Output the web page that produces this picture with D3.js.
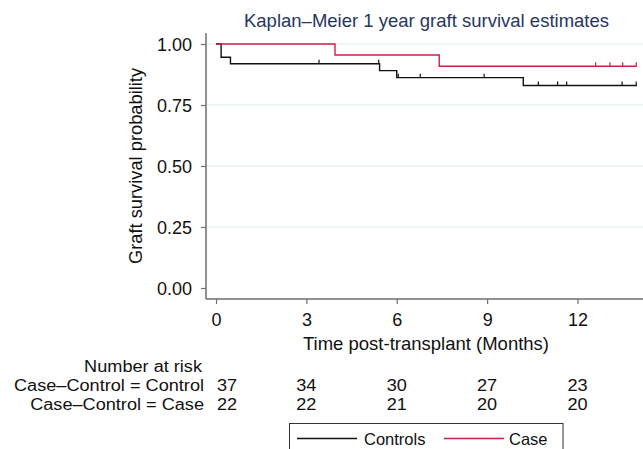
<!DOCTYPE html>
<html><head><meta charset="utf-8">
<script src="https://cdn.jsdelivr.net/npm/d3@7"></script>
<style>
html,body{margin:0;padding:0;background:#fff;}
text{font-family:"Liberation Sans",Arial,Helvetica,sans-serif;}
</style></head>
<body>
<svg id="c" width="643" height="449"></svg>
<script>
// ---- data ----
const controlTimes = [0, 0.17, 0.48, 5.43, 6.0, 10.2];
const controlSurv  = [1, 0.946, 0.919, 0.891, 0.862, 0.830];
const controlEnd = 13.97;
const controlCensor = [3.42, 5.4, 6.05, 6.78, 8.9, 10.7, 11.34, 11.64, 13.48, 13.95];

const caseTimes = [0, 3.95, 7.41];
const caseSurv  = [1, 0.955, 0.909];
const caseEnd = 13.97;
const caseCensor = [12.6, 13.08, 13.5, 13.95];

const xTicks = [0, 3, 6, 9, 12];
const yTicks = [0, 0.25, 0.5, 0.75, 1];
const riskRowLabels = ["Case\u2013Control = Control", "Case\u2013Control = Case"];
const riskControl = [37, 34, 30, 27, 23];
const riskCase = [22, 22, 21, 20, 20];
const legendLabels = ["Controls", "Case"];

const colControl = "#111111", colCase = "#c8214b";
const svg = d3.select("#c");
const x = d3.scaleLinear().domain([0, 12]).range([216, 577.5]);
const y = d3.scaleLinear().domain([0, 1]).range([288, 44]);
const plotL = 206, plotR = 643, plotT = 33, plotB = 299;
const axisCol = "#6e6e6e";

// grid
svg.append("g").selectAll("line").data(yTicks.filter(d => d > 0)).join("line")
  .attr("x1", plotL + 1).attr("x2", plotR).attr("y1", d => y(d)).attr("y2", d => y(d))
  .attr("stroke", "#e9f0f2").attr("stroke-width", 1.5);

// axes
const yAxis = d3.axisLeft(y).tickValues(yTicks).tickFormat(d3.format(".2f")).tickSize(5).tickSizeOuter(0);
const gy = svg.append("g").attr("transform", `translate(${plotL},0)`).call(yAxis);
gy.select(".domain").remove();
gy.append("line").attr("x1", 0).attr("x2", 0).attr("y1", plotT).attr("y2", plotB).attr("stroke", axisCol).attr("stroke-width", 1.5);
gy.selectAll(".tick line").attr("stroke", axisCol).attr("stroke-width", 1.2);
gy.selectAll(".tick text").attr("x", -14).attr("dy", "0.35em").attr("font-size", 18).attr("fill", "#111")
  .attr("font-family", "Liberation Sans, Arial, sans-serif");

const xAxis = d3.axisBottom(x).tickValues(xTicks).tickFormat(d3.format("d")).tickSize(5).tickSizeOuter(0);
const gx = svg.append("g").attr("transform", `translate(0,${plotB})`).call(xAxis);
gx.select(".domain").remove();
gx.append("line").attr("x1", plotL).attr("x2", plotR).attr("y1", 0).attr("y2", 0).attr("stroke", axisCol).attr("stroke-width", 1.5);
gx.selectAll(".tick line").attr("stroke", axisCol).attr("stroke-width", 1.2);
gx.selectAll(".tick text").attr("y", 27).attr("dy", 0).attr("font-size", 18).attr("fill", "#111")
  .attr("font-family", "Liberation Sans, Arial, sans-serif");

// step curves
function stepPath(times, surv, end) {
  const pts = [];
  for (let i = 0; i < times.length; i++) {
    if (i > 0) pts.push([times[i], surv[i - 1]]);
    pts.push([times[i], surv[i]]);
  }
  pts.push([end, surv[surv.length - 1]]);
  return d3.line().x(d => x(d[0])).y(d => y(d[1]))(pts);
}
function survAt(times, surv, t) {
  let v = surv[0];
  for (let i = 0; i < times.length; i++) if (times[i] <= t) v = surv[i];
  return v;
}
function drawCurve(times, surv, end, censor, col) {
  svg.append("path").attr("d", stepPath(times, surv, end)).attr("fill", "none")
    .attr("stroke", col).attr("stroke-width", 1.4);
  svg.append("g").selectAll("line").data(censor).join("line")
    .attr("x1", d => x(d)).attr("x2", d => x(d))
    .attr("y1", d => y(survAt(times, surv, d))).attr("y2", d => y(survAt(times, surv, d)) - 4)
    .attr("stroke", col).attr("stroke-width", 1.2);
}
drawCurve(controlTimes, controlSurv, controlEnd, controlCensor, colControl);
drawCurve(caseTimes, caseSurv, caseEnd, caseCensor, colCase);

// titles
svg.append("text").attr("x", 426.5).attr("y", 27).attr("text-anchor", "middle")
  .attr("font-size", 18.5).attr("fill", "#27365e").text("Kaplan\u2013Meier 1 year graft survival estimates");
svg.append("text").attr("transform", `translate(142,${y(0.5)}) rotate(-90)`).attr("text-anchor", "middle")
  .attr("font-size", 18.3).attr("fill", "#111").text("Graft survival probability");
svg.append("text").attr("x", 426).attr("y", 350).attr("text-anchor", "middle")
  .attr("font-size", 18.5).attr("fill", "#111").text("Time post-transplant (Months)");

// risk table (slightly condensed height so rows do not collide)
const rFont = 16.2, rScale = 1.12;
svg.append("text").attr("transform", `translate(202,372) scale(${rScale},1)`).attr("text-anchor", "end")
  .attr("font-size", rFont).attr("fill", "#111").text("Number at risk");
const rows = [riskControl, riskCase];
const rowY = [391, 410];
rows.forEach((vals, r) => {
  svg.append("text").attr("transform", `translate(204,${rowY[r]}) scale(${rScale},1)`).attr("text-anchor", "end")
    .attr("font-size", rFont).attr("fill", "#111").text(riskRowLabels[r]);
  svg.append("g").selectAll("text").data(vals).join("text")
    .attr("transform", (d, i) => `translate(${i === 0 ? x(xTicks[i]) + 11 : x(xTicks[i])},${rowY[r]}) scale(${rScale},1)`)
    .attr("text-anchor", "middle").attr("font-size", rFont).attr("fill", "#111")
    .text(d => d);
});

// legend
const lg = svg.append("g");
lg.append("rect").attr("x", 289.5).attr("y", 423.5).attr("width", 273.5).attr("height", 40)
  .attr("fill", "#fff").attr("stroke", "#333").attr("stroke-width", 1);
const legItems = [
  {label: legendLabels[0], col: colControl, x0: 297, x1: 357, tx: 364},
  {label: legendLabels[1], col: colCase, x0: 444, x1: 504, tx: 509}
];
legItems.forEach(it => {
  lg.append("line").attr("x1", it.x0).attr("x2", it.x1).attr("y1", 438.5).attr("y2", 438.5)
    .attr("stroke", it.col).attr("stroke-width", 1.4);
  lg.append("text").attr("x", it.tx).attr("y", 444.5).attr("font-size", 16.5).attr("fill", "#111").text(it.label);
});
</script>
</body></html>
